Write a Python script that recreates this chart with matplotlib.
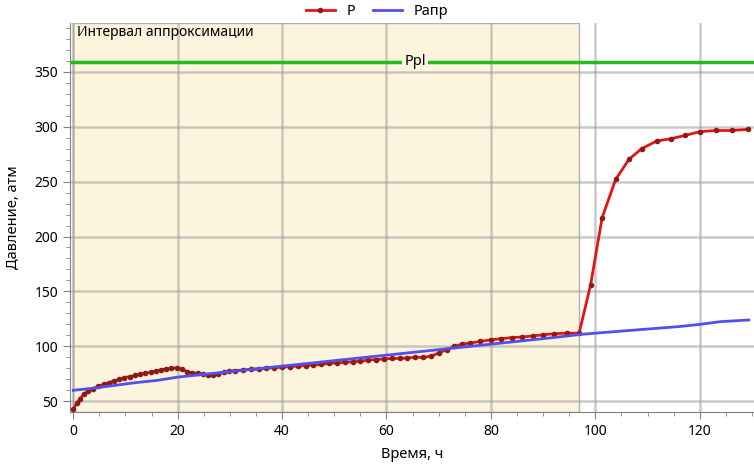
import matplotlib
matplotlib.use('Agg')
import matplotlib.pyplot as plt
from matplotlib.ticker import MultipleLocator

plt.rcParams['font.family'] = ['Noto Sans', 'DejaVu Sans']

# measured pressure P
p_time = [0, 0.7, 1.3, 2, 2.8, 3.8, 4.8, 5.8, 6.8, 7.8, 8.8, 9.8, 10.8, 11.8, 12.8,
          13.8, 14.8, 15.8, 16.8, 17.8, 18.8, 19.8, 20.8, 21.8, 22.8, 23.8, 24.8,
          25.8, 26.8, 27.8, 28.8, 29.8, 31, 32.5, 34, 35.5, 37, 38.5, 40, 41.5, 43,
          44.5, 46, 47.5, 49, 50.5, 52, 53.5, 55, 56.5, 58, 59.5, 61, 62.5, 64,
          65.5, 67, 68.5, 70, 71.5, 73, 74.5, 76, 78, 80, 82, 84, 86, 88, 90, 92,
          94.5, 96.9, 99.1, 101.3, 103.9, 106.5, 108.9, 111.8, 114.5, 117.2,
          120.1, 123.1, 126.1, 129.2]
p_value = [43, 48, 52, 56.5, 59, 61.5, 63.5, 65.5, 67, 68.5, 70, 71.5, 72.5, 73.5,
           74.5, 75.5, 76.5, 77.5, 78.5, 79.5, 80, 80.5, 79.5, 77, 76, 75.5, 74.5,
           74, 74, 75, 76.5, 77.5, 78, 78.5, 79, 79.5, 80, 80.5, 81, 81.5, 82,
           82.5, 83, 83.5, 84.5, 85, 85.5, 86, 86.5, 87.5, 88, 88.5, 89, 89, 89.5,
           90, 90, 91, 94, 97, 100, 102, 103, 104.5, 106, 107, 108, 108.5, 109.5,
           110.5, 111.5, 112, 112, 156, 217, 252, 270.5, 280, 287, 289, 292,
           295.5, 296.5, 296.5, 297.5]

# approximation P_apr
apr_time = [0, 4, 8, 12, 16, 20, 24, 28, 32, 36, 40, 44, 48, 52, 56, 60, 64, 68,
            72, 76, 80, 84, 88, 92, 97, 100, 104, 108, 112, 116, 120, 124, 129.4]
apr_value = [60, 62, 64.5, 67, 69, 72, 74, 76, 78, 80, 82, 84, 86, 88, 90, 92, 94,
             96, 98, 100, 102, 104, 106, 108, 110.8, 112, 113.5, 115, 116.5, 118,
             120, 122.5, 124]

ppl = 359
interval = (0, 96.9)

fig = plt.figure(figsize=(7.54, 4.66), dpi=100)
ax = fig.add_axes([0.093, 0.116, 0.907, 0.835])

ax.axvspan(interval[0], interval[1], facecolor='#fcf4dc', edgecolor='#b0b0b0',
           linewidth=1, zorder=0.5)
ax.set_axisbelow(True)
ax.grid(True, which='major', color='#a0a0a0', alpha=0.55, linewidth=1.8, zorder=1)

ax.axhline(ppl, color='#22bb22', linewidth=2.5, zorder=3)
ax.text(65.5, ppl, 'Ppl', ha='center', va='center', fontsize=10.5, zorder=4,
        bbox=dict(facecolor='#fcf4dc', edgecolor='none', pad=1.5))

ax.plot(p_time, p_value, color='#e41414', linewidth=2, marker='o', markersize=3,
        markerfacecolor='#8b1c14', markeredgecolor='#8b1c14', label='P', zorder=5)
ax.plot(apr_time, apr_value, color='#5050ee', linewidth=2, label='Рапр', zorder=6)

ax.text(0.8, 386, 'Интервал аппроксимации', ha='left', va='center', fontsize=10)

ax.set_xlim(-0.6, 130.4)
ax.set_ylim(40.3, 394.5)
ax.xaxis.set_major_locator(MultipleLocator(20))
ax.xaxis.set_minor_locator(MultipleLocator(5))
ax.yaxis.set_major_locator(MultipleLocator(50))
ax.yaxis.set_minor_locator(MultipleLocator(10))
ax.tick_params(which='both', color='#808080', labelsize=10)
ax.tick_params(which='major', length=5)
ax.tick_params(which='minor', length=3)
for side in ['top', 'right']:
    ax.spines[side].set_visible(False)
for side in ['left', 'bottom']:
    ax.spines[side].set_color('#808080')

ax.set_xlabel('Время, ч', fontsize=10.5, labelpad=6)
ax.set_ylabel('Давление, атм', fontsize=10.5, labelpad=10)

fig.legend(loc='upper center', bbox_to_anchor=(0.5, 1.02), ncol=2, frameon=False,
           fontsize=10.5, handlelength=2, columnspacing=1.2)

fig.savefig('out.png', dpi=100)
